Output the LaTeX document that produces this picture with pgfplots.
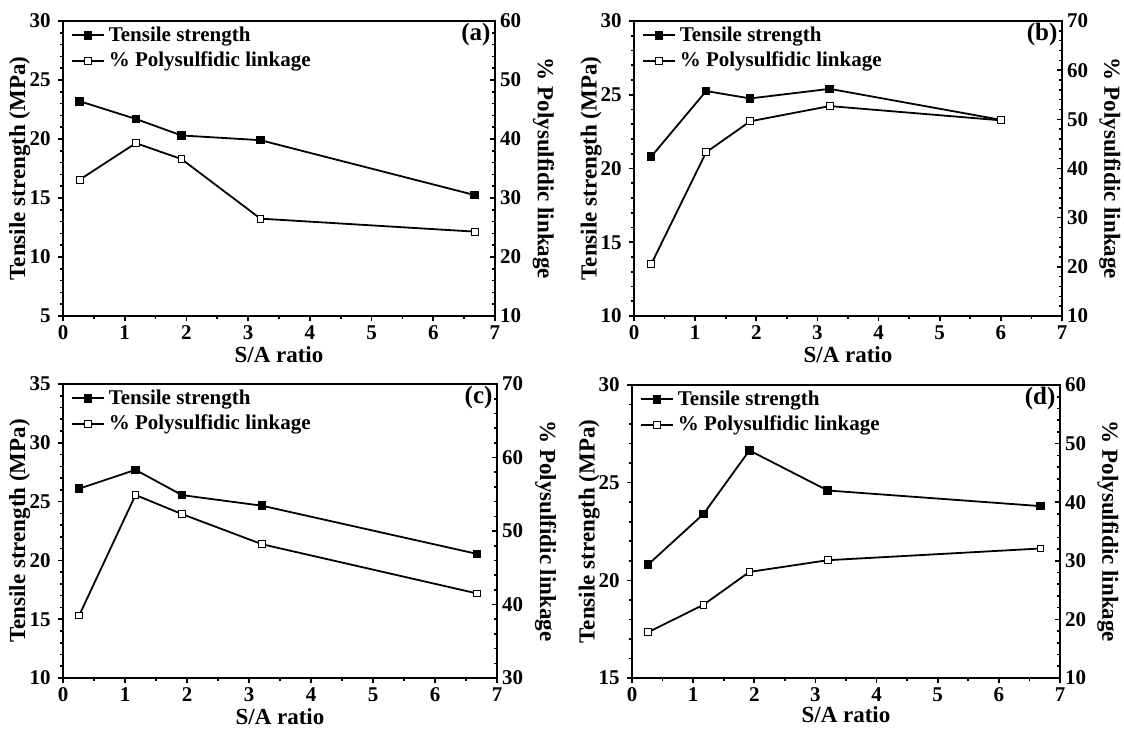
\documentclass[border=0pt]{standalone}
\usepackage{fontspec}
\setmainfont{Liberation Serif}
\usepackage{pgfplots}
\pgfplotsset{compat=1.18}

\tikzset{plab/.style={anchor=east, inner sep=1pt, font=\bfseries\fontsize{12.5}{14}\selectfont}}
\pgfplotsset{
  base/.style={
    scale only axis,
    xmin=0, xmax=7, xtick={0,...,7}, minor x tick num=1,
    minor y tick num=4,
    axis line style={line width=0.9pt},
    every tick/.style={black, line width=0.8pt},
    major tick length=2.6pt, minor tick length=1.6pt,
    tick label style={font=\bfseries\fontsize{10.5}{12}\selectfont},
    xticklabel style={inner sep=2pt},
    /pgf/number format/assume math mode=true,
    label style={font=\bfseries\fontsize{11.5}{13}\selectfont},
  },
  leftax/.style={base, tick align=outside, xtick pos=lower, ytick pos=left,
    xlabel={S/A ratio}, ylabel={Tensile strength (MPa)},
    xlabel style={at={(axis description cs:0.5,-0.13)},anchor=center, inner sep=0pt},
    ylabel style={at={(axis description cs:-0.1,0.5)},anchor=center},
  },
  rightax/.style={base, axis y line*=right, axis x line=none, tick align=inside,
    ylabel={\% Polysulfidic linkage},
    yticklabel style={xshift=-1pt},
    ylabel style={at={(axis description cs:1.112,0.5)},anchor=center,rotate=180},
    legend style={draw=none, fill=none, at={(axis description cs:0.004,1.01)}, anchor=north west,
      font=\bfseries\fontsize{10.5}{12}\selectfont, row sep=0pt},
    legend cell align=left,
    legend image code/.code={\draw[mark repeat=2, mark phase=2] plot coordinates {(0cm,0cm) (0.28cm,0cm) (0.56cm,0cm)};},
  },
  ts/.style={black, line width=0.9pt, mark=square*, mark size=1.7pt, mark options={solid, fill=black}},
  ps/.style={black, line width=0.9pt, mark=square*, mark size=1.7pt, mark options={solid, fill=white, line width=0.5pt}},
}

\begin{document}
\begin{tikzpicture}
\useasboundingbox (0,0) rectangle (562pt,364.5pt);

% ---------- (a) ----------
\begin{axis}[leftax, at={(31.5pt,206.5pt)}, anchor=south west, width=216pt, height=147.5pt,
  ymin=5, ymax=30, ytick={5,10,...,30}]
\addplot[ts] coordinates {(0.27,23.2) (1.18,21.7) (1.92,20.3) (3.2,19.9) (6.67,15.25)};
\end{axis}
\begin{axis}[rightax, at={(31.5pt,206.5pt)}, anchor=south west, width=216pt, height=147.5pt,
  ymin=10, ymax=60, ytick={10,20,...,60}]
\addlegendimage{ts}\addlegendentry{Tensile strength}
\addplot[ps] coordinates {(0.27,33.1) (1.18,39.3) (1.92,36.6) (3.2,26.5) (6.67,24.3)};
\addlegendentry{\% Polysulfidic linkage}
\node[plab] at (rel axis cs:0.995,0.953) {(a)};
\end{axis}

% ---------- (b) ----------
\begin{axis}[leftax, at={(317pt,206.5pt)}, anchor=south west, width=214pt, height=147.5pt,
  ymin=10, ymax=30, ytick={10,15,...,30}]
\addplot[ts] coordinates {(0.28,20.8) (1.18,25.25) (1.9,24.75) (3.2,25.4) (6.0,23.3)};
\end{axis}
\begin{axis}[rightax, at={(317pt,206.5pt)}, anchor=south west, width=214pt, height=147.5pt,
  ymin=10, ymax=70, ytick={10,20,...,70}]
\addlegendimage{ts}\addlegendentry{Tensile strength}
\addplot[ps] coordinates {(0.28,20.5) (1.18,43.3) (1.9,49.6) (3.2,52.7) (6.0,49.8)};
\addlegendentry{\% Polysulfidic linkage}
\node[plab] at (rel axis cs:0.995,0.953) {(b)};
\end{axis}

% ---------- (c) ----------
\begin{axis}[leftax, at={(31.5pt,25.5pt)}, anchor=south west, width=217pt, height=147pt,
  ymin=10, ymax=35, ytick={10,15,...,35}]
\addplot[ts] coordinates {(0.26,26.1) (1.17,27.7) (1.92,25.55) (3.21,24.65) (6.68,20.55)};
\end{axis}
\begin{axis}[rightax, at={(31.5pt,25.5pt)}, anchor=south west, width=217pt, height=147pt,
  ymin=30, ymax=70, ytick={30,40,...,70}]
\addlegendimage{ts}\addlegendentry{Tensile strength}
\addplot[ps] coordinates {(0.26,38.5) (1.17,54.9) (1.92,52.3) (3.21,48.2) (6.68,41.5)};
\addlegendentry{\% Polysulfidic linkage}
\node[plab] at (rel axis cs:0.995,0.953) {(c)};
\end{axis}

% ---------- (d) ----------
\begin{axis}[leftax, at={(316pt,25.5pt)}, anchor=south west, width=214pt, height=146.5pt,
  ymin=15, ymax=30, ytick={15,20,...,30},
  xlabel style={at={(axis description cs:0.5,-0.124)}}]
\addplot[ts] coordinates {(0.26,20.8) (1.17,23.4) (1.92,26.65) (3.2,24.6) (6.68,23.8)};
\end{axis}
\begin{axis}[rightax, at={(316pt,25.5pt)}, anchor=south west, width=214pt, height=146.5pt,
  ymin=10, ymax=60, ytick={10,20,...,60}]
\addlegendimage{ts}\addlegendentry{Tensile strength}
\addplot[ps] coordinates {(0.26,17.8) (1.17,22.5) (1.92,28.1) (3.2,30.1) (6.68,32.1)};
\addlegendentry{\% Polysulfidic linkage}
\node[plab] at (rel axis cs:0.995,0.953) {(d)};
\end{axis}
\end{tikzpicture}
\end{document}
